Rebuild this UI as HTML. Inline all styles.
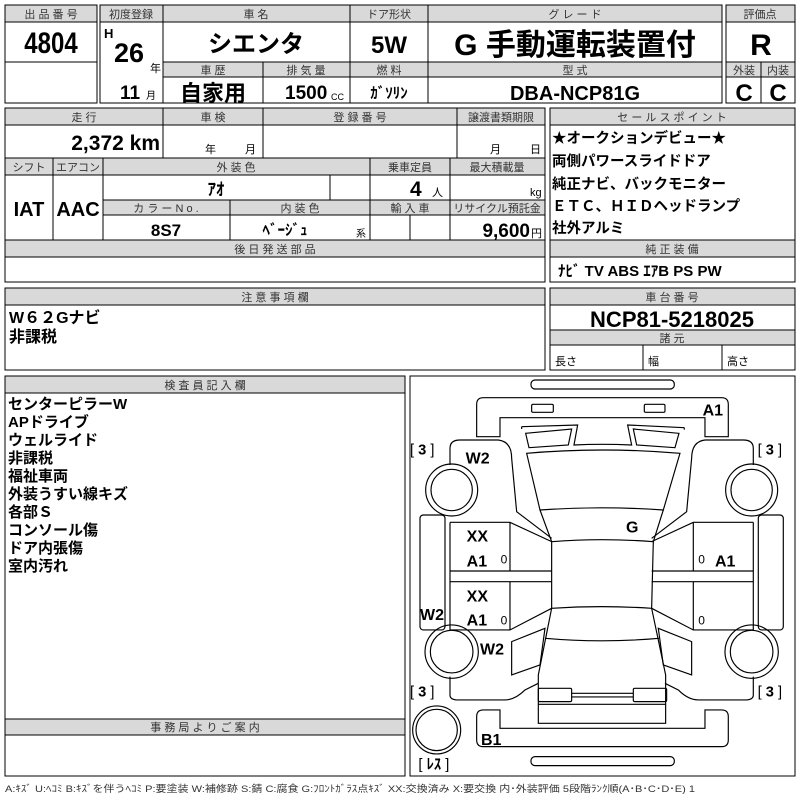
<!DOCTYPE html>
<html><head><meta charset="utf-8"><style>
html,body{margin:0;padding:0;background:#fff;}
svg{display:block;}
text{font-family:"Liberation Sans","Noto Sans CJK JP",sans-serif;}
.h{font-size:11px;fill:#333;text-anchor:middle;}
.b{font-weight:bold;}
.c{text-anchor:middle;}
</style></head><body>
<svg width="800" height="800" viewBox="0 0 800 800" xmlns="http://www.w3.org/2000/svg">
<g fill="none" stroke="#000" stroke-width="1">
<!-- block 1 -->
<rect x="5" y="5" width="92" height="17" fill="#d9d9d9"/>
<rect x="5" y="5" width="92" height="98"/>
<line x1="5" y1="62" x2="97" y2="62"/>
<!-- block 2 headers -->
<rect x="100" y="5" width="622" height="17" fill="#d9d9d9"/>
<rect x="163" y="62" width="559" height="15" fill="#d9d9d9"/>
<rect x="100" y="5" width="622" height="98"/>
<line x1="163" y1="5" x2="163" y2="103"/>
<line x1="350" y1="5" x2="350" y2="103"/>
<line x1="428" y1="5" x2="428" y2="103"/>
<line x1="263" y1="62" x2="263" y2="103"/>
<!-- block 3 -->
<rect x="726" y="5" width="69" height="17" fill="#d9d9d9"/>
<rect x="726" y="62" width="69" height="15" fill="#d9d9d9"/>
<rect x="726" y="5" width="69" height="98"/>
<line x1="761" y1="62" x2="761" y2="103"/>
<!-- section 2 left -->
<rect x="5" y="108" width="540" height="17" fill="#d9d9d9"/>
<rect x="5" y="158" width="540" height="17" fill="#d9d9d9"/>
<rect x="103" y="200" width="442" height="15" fill="#d9d9d9"/>
<rect x="5" y="240" width="540" height="17" fill="#d9d9d9"/>
<rect x="5" y="108" width="540" height="174"/>
<line x1="163" y1="108" x2="163" y2="158"/>
<line x1="263" y1="108" x2="263" y2="158"/>
<line x1="457" y1="108" x2="457" y2="158"/>
<line x1="53" y1="158" x2="53" y2="240"/>
<line x1="103" y1="158" x2="103" y2="240"/>
<line x1="370" y1="158" x2="370" y2="240"/>
<line x1="450" y1="158" x2="450" y2="240"/>
<line x1="330" y1="175" x2="330" y2="200"/>
<line x1="230" y1="200" x2="230" y2="240"/>
<line x1="410" y1="215" x2="410" y2="240"/>
<!-- section 2 right -->
<rect x="550" y="108" width="245" height="17" fill="#d9d9d9"/>
<rect x="550" y="240" width="245" height="17" fill="#d9d9d9"/>
<rect x="550" y="108" width="245" height="174"/>
<!-- section 3 -->
<rect x="5" y="288" width="540" height="17" fill="#d9d9d9"/>
<rect x="5" y="288" width="540" height="82"/>
<rect x="550" y="288" width="245" height="17" fill="#d9d9d9"/>
<rect x="550" y="330" width="245" height="15" fill="#d9d9d9"/>
<rect x="550" y="288" width="245" height="82"/>
<line x1="643" y1="345" x2="643" y2="370"/>
<line x1="722" y1="345" x2="722" y2="370"/>
<!-- section 4 -->
<rect x="5" y="376" width="400" height="17" fill="#d9d9d9"/>
<rect x="5" y="719" width="400" height="16" fill="#d9d9d9"/>
<rect x="5" y="376" width="400" height="400"/>
<rect x="410" y="376" width="385" height="400"/>
</g>

<!-- block 1 text -->
<text class="h" x="51" y="18">出 品 番 号</text>
<text class="b c" x="51" y="53" font-size="30" transform="translate(51,0) scale(0.8,1) translate(-51,0)">4804</text>
<!-- block 2 text -->
<text class="h" x="131" y="18">初度登録</text>
<text class="h" x="256" y="18">車 名</text>
<text class="h" x="389" y="18">ドア形状</text>
<text class="h" x="575" y="18">グ レ ー ド</text>
<text class="b" x="104" y="38" font-size="13">H</text>
<text class="b" x="114" y="62" font-size="27">26</text>
<text x="150" y="72" font-size="11">年</text>
<text class="b c" x="256" y="52" font-size="24">シエンタ</text>
<text class="b c" x="389" y="53" font-size="24">5W</text>
<text class="b c" x="575" y="55" font-size="30">G 手動運転装置付</text>
<text class="h" x="213" y="74">車 歴</text>
<text class="h" x="306" y="74">排 気 量</text>
<text class="h" x="389" y="74">燃 料</text>
<text class="h" x="575" y="74">型 式</text>
<text class="b" x="120" y="99" font-size="19">11</text>
<text x="146" y="99" font-size="10">月</text>
<text class="b c" x="213" y="101" font-size="22">自家用</text>
<text class="b" x="285" y="99" font-size="19">1500</text>
<text x="331" y="100" font-size="9">CC</text>
<text class="b c" x="389" y="98" font-size="15">ｶﾞｿﾘﾝ</text>
<text class="b c" x="575" y="100" font-size="20">DBA-NCP81G</text>
<!-- block 3 -->
<text class="h" x="760" y="18">評価点</text>
<text class="b c" x="761" y="55" font-size="30">R</text>
<text class="h" x="744" y="74">外装</text>
<text class="h" x="778" y="74">内装</text>
<text class="b c" x="744" y="101" font-size="24">C</text>
<text class="b c" x="778" y="101" font-size="24">C</text>

<!-- section 2 -->
<text class="h" x="84" y="121">走 行</text>
<text class="h" x="213" y="121">車 検</text>
<text class="h" x="360" y="121">登 録 番 号</text>
<text class="h" x="501" y="121">譲渡書類期限</text>
<text class="b" x="160" y="150" font-size="21" text-anchor="end">2,372 km</text>
<text x="205" y="153" font-size="11">年</text>
<text x="245" y="153" font-size="11">月</text>
<text x="490" y="153" font-size="11">月</text>
<text x="530" y="153" font-size="11">日</text>
<text class="h" x="29" y="171">シフト</text>
<text class="h" x="78" y="171">エアコン</text>
<text class="h" x="236" y="171">外 装 色</text>
<text class="h" x="410" y="171">乗車定員</text>
<text class="h" x="497" y="171">最大積載量</text>
<text class="b c" x="29" y="216" font-size="20">IAT</text>
<text class="b c" x="78" y="216" font-size="20">AAC</text>
<text class="b c" x="216" y="195" font-size="17">ｱｵ</text>
<text class="b" x="410" y="196" font-size="21">4</text>
<text x="432" y="196" font-size="11">人</text>
<text x="530" y="196" font-size="11">kg</text>
<text class="h" x="166" y="212">カ ラ ー N o .</text>
<text class="h" x="300" y="212">内 装 色</text>
<text class="h" x="410" y="212">輸 入 車</text>
<text class="h" x="497" y="212">リサイクル預託金</text>
<text class="b c" x="166" y="236" font-size="17">8S7</text>
<text class="b c" x="285" y="235" font-size="15">ﾍﾞｰｼﾞｭ</text>
<text x="356" y="237" font-size="10">系</text>
<text class="b" x="530" y="237" font-size="19" text-anchor="end">9,600</text>
<text x="531" y="237" font-size="11">円</text>
<text class="h" x="275" y="253">後 日 発 送 部 品</text>
<text class="h" x="672" y="121">セ ー ル ス ポ イ ン ト</text>
<g class="b" font-size="14.5">
<text x="552" y="143">★オークションデビュー★</text>
<text x="552" y="166">両側パワースライドドア</text>
<text x="552" y="189">純正ナビ、バックモニター</text>
<text x="552" y="211">ＥＴＣ、ＨＩＤヘッドランプ</text>
<text x="552" y="233">社外アルミ</text>
</g>
<text class="h" x="672" y="253">純 正 装 備</text>
<text class="b" x="558" y="276" font-size="15">ﾅﾋﾞ  TV  ABS ｴｱB PS PW</text>
<!-- section 3 -->
<text class="h" x="275" y="301">注 意 事 項 欄</text>
<text class="b" x="9" y="323" font-size="16">W６２Gナビ</text>
<text class="b" x="9" y="342" font-size="16">非課税</text>
<text class="h" x="672" y="301">車 台 番 号</text>
<text class="b c" x="672" y="327" font-size="22">NCP81-5218025</text>
<text class="h" x="672" y="342">諸 元</text>
<text x="555" y="365" font-size="11">長さ</text>
<text x="648" y="365" font-size="11">幅</text>
<text x="727" y="365" font-size="11">高さ</text>
<!-- section 4 -->
<text class="h" x="205" y="389">検 査 員 記 入 欄</text>
<g class="b" font-size="15">
<text x="8" y="409">センターピラーW</text>
<text x="8" y="427">APドライブ</text>
<text x="8" y="445">ウェルライド</text>
<text x="8" y="463">非課税</text>
<text x="8" y="481">福祉車両</text>
<text x="8" y="499">外装うすい線キズ</text>
<text x="8" y="517">各部Ｓ</text>
<text x="8" y="535">コンソール傷</text>
<text x="8" y="553">ドア内張傷</text>
<text x="8" y="571">室内汚れ</text>
</g>
<text class="h" x="205" y="731">事 務 局 よ り ご 案 内</text>
<text x="5" y="792" font-size="9.5" fill="#333" textLength="690" lengthAdjust="spacingAndGlyphs">A:ｷｽﾞ U:ﾍｺﾐ B:ｷｽﾞを伴うﾍｺﾐ P:要塗装 W:補修跡 S:錆 C:腐食 G:ﾌﾛﾝﾄｶﾞﾗｽ点ｷｽﾞ XX:交換済み X:要交換 内･外装評価 5段階ﾗﾝｸ順(A･B･C･D･E) 1</text>

<!-- car diagram -->
<g transform="translate(405,375) scale(0.3333)">
<g fill="none" stroke="#000" stroke-width="3.5">
<rect x="378" y="15" width="430" height="27" rx="12"/>
<path d="M235,68 H950 Q970,68 970,88 V185 H900 V128 H285 V185 H215 V88 Q215,68 235,68 Z"/>
<rect x="380" y="88" width="65" height="24" rx="4"/>
<rect x="718" y="88" width="62" height="24" rx="4"/>
<path d="M350,155 L518,150 L507,210 Q590,206 680,210 L668,150 L838,158"/>
<path d="M350,162 L350,155 M838,158 L838,164"/>
<path d="M362,175 L500,162 L490,210 L372,218 Z"/>
<path d="M685,162 L822,175 L810,218 L695,210 Z"/>
<path d="M365,235 Q590,215 825,235 L775,405 Q590,392 405,405 Z"/>
<path d="M405,405 L440,500 M775,405 L745,500"/>
<path d="M440,500 Q590,488 745,500 L740,700 Q590,690 440,700 Z"/>
<path d="M440,700 L400,900 V1045 H782 V900 L740,700"/>
<path d="M420,790 Q590,805 762,790"/>
<rect x="400" y="940" width="100" height="40" rx="4"/>
<rect x="685" y="940" width="100" height="40" rx="4"/>
<path d="M500,955 H685 M500,966 H685"/>
<path d="M400,988 H782"/>
<path d="M235,1005 H285 V1060 H900 V1005 H950 Q970,1005 970,1025 V1095 Q970,1115 950,1115 H235 Q215,1115 215,1095 V1025 Q215,1005 235,1005 Z"/>
<rect x="378" y="1145" width="430" height="27" rx="12"/>
<circle cx="95" cy="1065" r="72"/><circle cx="95" cy="1065" r="62"/>
<g id="side">
<path d="M135,270 V220 Q135,195 165,195 H280 Q320,200 320,250 L335,410 L440,490"/>
<path d="M135,442 H315 L440,500 M315,442 V588 M135,588 H440 M135,620 H440 M315,620 V765 M135,765 H315 L440,700 M135,442 V765"/>
<path d="M320,800 L420,760 L405,870 L320,900 Z"/>
<path d="M135,905 V960 Q135,975 160,975 H300 Q330,975 360,945 L400,925"/>
<rect x="45" y="420" width="75" height="345" rx="10"/>
<circle cx="140" cy="345" r="78"/><circle cx="140" cy="345" r="62"/>
<circle cx="140" cy="830" r="80"/><circle cx="140" cy="830" r="64"/>
</g>
<use href="#side" transform="translate(1180,0) scale(-1,1)"/>
</g>
<g font-weight="bold" font-size="48" fill="#000">
<text x="893" y="122">A1</text>
<text x="182" y="265">W2</text>
<text x="185" y="500">XX</text>
<text x="185" y="575">A1</text>
<text x="185" y="680">XX</text>
<text x="185" y="752">A1</text>
<text x="45" y="735">W2</text>
<text x="225" y="838">W2</text>
<text x="663" y="472">G</text>
<text x="930" y="575">A1</text>
<text x="228" y="1110">B1</text>
</g>
<g font-size="36" fill="#000">
<text x="287" y="565">0</text><text x="287" y="748">0</text>
<text x="880" y="565">0</text><text x="880" y="748">0</text>
</g>
<g font-size="44" fill="#000">
<text x="15" y="238">[ <tspan font-weight="bold">3</tspan> ]</text>
<text x="1058" y="238">[ <tspan font-weight="bold">3</tspan> ]</text>
<text x="15" y="965">[ <tspan font-weight="bold">3</tspan> ]</text>
<text x="1058" y="965">[ <tspan font-weight="bold">3</tspan> ]</text>
<text x="40" y="1182">[ <tspan font-weight="bold">ﾚｽ</tspan> ]</text>
</g>
</g>
</svg>
</body></html>
